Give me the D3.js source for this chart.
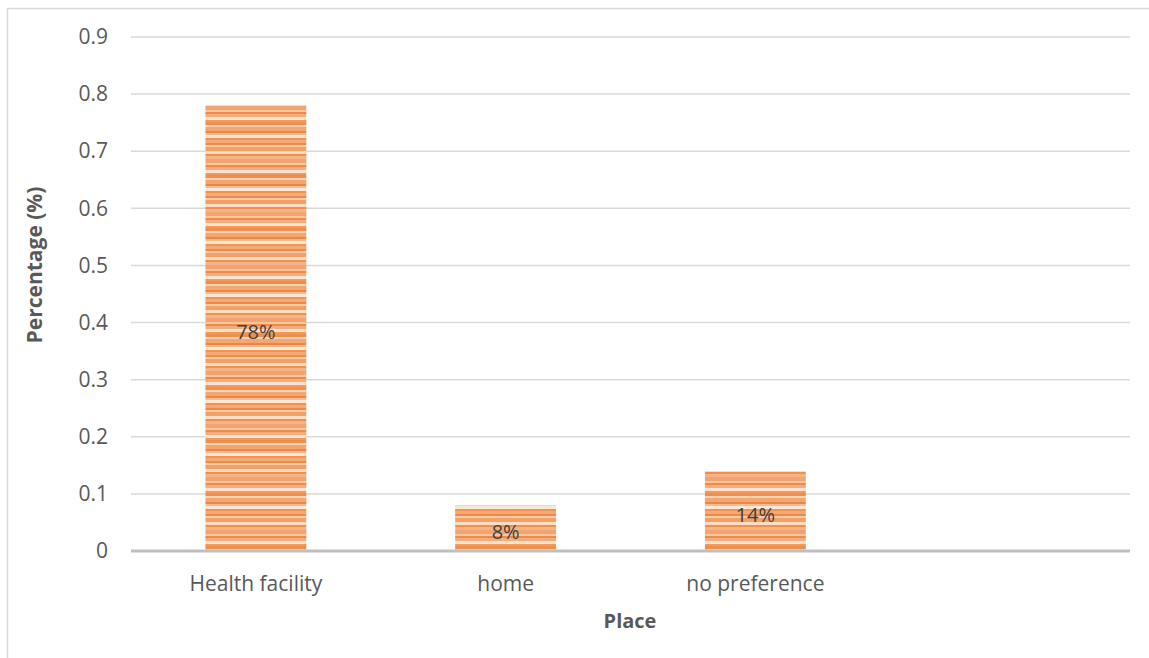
<!DOCTYPE html>
<html>
<head>
<meta charset="utf-8">
<script src="https://cdn.jsdelivr.net/npm/d3@7/dist/d3.min.js"></script>
<style>
  html, body { margin: 0; padding: 0; background: #fff; }
  svg { display: block; font-family: "Open Sans", "Noto Sans", sans-serif; }
</style>
</head>
<body>
<div id="chart"></div>
<script>
// Preferred place of delivery
const categories = ["Health facility", "home", "no preference"];
const shares = [0.78, 0.08, 0.14];
const shareLabels = ["78%", "8%", "14%"];
const yTicks = [0, 0.1, 0.2, 0.3, 0.4, 0.5, 0.6, 0.7, 0.8, 0.9];
const yTickLabels = ["0", "0.1", "0.2", "0.3", "0.4", "0.5", "0.6", "0.7", "0.8", "0.9"];

const W = 1149, H = 658;
const margin = { left: 131, right: 19, top: 37, bottom: 107 };
const FONT = "'Open Sans', 'Noto Sans', sans-serif";

const svg = d3.select("#chart").append("svg")
  .attr("width", W).attr("height", H);

// outer chart frame (runs off the right and bottom edges)
svg.append("rect")
  .attr("x", 7.5).attr("y", 8.5)
  .attr("width", W + 20).attr("height", H + 20)
  .attr("fill", "none").attr("stroke", "#d9d9d9").attr("stroke-width", 1.5);

// striped orange fill for the bars
const defs = svg.append("defs");
const stripes = [
  ["#f2a46f", 4], ["#f7c5a0", 2], ["#ee8b48", 2], ["#f4ae7e", 3], ["#fce3d1", 3],
  ["#f19a5d", 2], ["#ef8f4e", 3], ["#f9d2b5", 2], ["#f3a770", 4], ["#ed8642", 2],
  ["#f6bb92", 2], ["#fde8d8", 3], ["#f0944f", 2], ["#f3aa77", 3], ["#ee8a46", 2],
  ["#f8cba9", 2], ["#f2a066", 4], ["#fbdcc5", 3], ["#ef9050", 2], ["#f5b486", 3]
];
const patH = d3.sum(stripes, s => s[1]);
const pat = defs.append("pattern")
  .attr("id", "barStripes")
  .attr("patternUnits", "userSpaceOnUse")
  .attr("width", 10).attr("height", patH);
let yy = 0;
stripes.forEach(([c, h]) => {
  pat.append("rect").attr("x", 0).attr("y", yy).attr("width", 10).attr("height", h).attr("fill", c);
  yy += h;
});
const soft = defs.append("filter").attr("id", "soft")
  .attr("x", "-5%").attr("y", "-5%").attr("width", "110%").attr("height", "110%");
soft.append("feGaussianBlur").attr("stdDeviation", 0.6);

const x = d3.scaleBand()
  .domain([...categories, " "])
  .range([margin.left, W - margin.right])
  .paddingInner(0.596).paddingOuter(0.298);

const y = d3.scaleLinear()
  .domain([0, 0.9])
  .range([H - margin.bottom, margin.top]);

// horizontal gridlines
svg.append("g").selectAll("line")
  .data(yTicks.filter(t => t > 0))
  .join("line")
  .attr("x1", margin.left).attr("x2", W - margin.right)
  .attr("y1", d => y(d)).attr("y2", d => y(d))
  .attr("stroke", "#d9d9d9").attr("stroke-width", 1.5);

// y axis labels
const yAxis = d3.axisLeft(y)
  .tickValues(yTicks)
  .tickFormat((d, i) => yTickLabels[i])
  .tickSize(0).tickPadding(23);
svg.append("g")
  .attr("transform", `translate(${margin.left},0)`)
  .call(yAxis)
  .call(g => g.select(".domain").remove())
  .call(g => g.selectAll("text")
    .attr("fill", "#595959").attr("font-size", 21)
    .attr("font-family", FONT));

// bars
svg.append("g").selectAll("rect")
  .data(categories)
  .join("rect")
  .attr("x", d => x(d))
  .attr("width", x.bandwidth())
  .attr("y", (d, i) => y(shares[i]))
  .attr("height", (d, i) => y(0) - y(shares[i]))
  .attr("fill", "url(#barStripes)")
  .attr("filter", "url(#soft)");

// value labels near bar centres
svg.append("g").selectAll("text")
  .data(categories)
  .join("text")
  .attr("x", d => x(d) + x.bandwidth() / 2)
  .attr("y", (d, i) => (y(shares[i]) + y(0)) / 2 + 4)
  .attr("dy", "0.36em")
  .attr("text-anchor", "middle")
  .attr("fill", "#404040").attr("font-size", 20)
  .attr("font-family", FONT)
  .text((d, i) => shareLabels[i]);

// baseline
svg.append("line")
  .attr("x1", margin.left).attr("x2", W - margin.right)
  .attr("y1", y(0)).attr("y2", y(0))
  .attr("stroke", "#bfbfbf").attr("stroke-width", 3);

// category labels
const xAxis = d3.axisBottom(x).tickSize(0).tickPadding(25);
svg.append("g")
  .attr("transform", `translate(0,${y(0)})`)
  .call(xAxis)
  .call(g => g.select(".domain").remove())
  .call(g => g.selectAll("text")
    .attr("fill", "#595959").attr("font-size", 21)
    .attr("font-family", FONT));

// axis titles
svg.append("text")
  .attr("x", 630)
  .attr("y", 628)
  .attr("text-anchor", "middle")
  .attr("fill", "#595959").attr("font-size", 20).attr("font-weight", "bold")
  .attr("font-family", FONT)
  .text("Place");

svg.append("text")
  .attr("transform", `translate(42,${(margin.top + H - margin.bottom) / 2 - 29}) rotate(-90)`)
  .attr("text-anchor", "middle")
  .attr("fill", "#595959").attr("font-size", 21).attr("font-weight", "bold")
  .attr("font-family", FONT)
  .text("Percentage (%)");
</script>
</body>
</html>
